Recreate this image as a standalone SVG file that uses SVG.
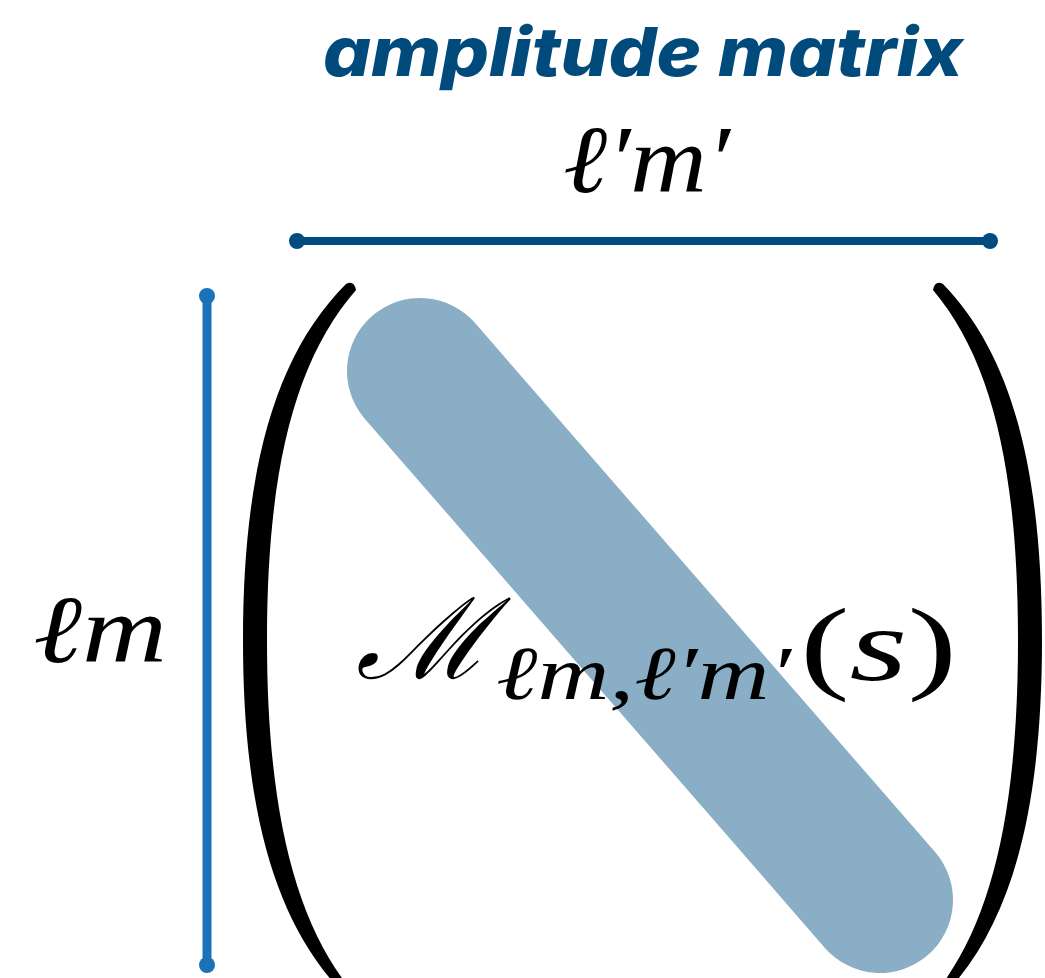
<svg xmlns="http://www.w3.org/2000/svg" width="1045" height="978" viewBox="0 0 1045 978">
  <style>
    .title { font-family: Inter, "Open Sans", "Liberation Sans", sans-serif; font-weight: 800; font-style: italic; fill: #004a7c; }
    .math { font-family: "Liberation Serif", "DejaVu Serif", serif; font-style: italic; fill: #000; }
    .script { font-family: "DejaVu Serif", "Liberation Serif", serif; font-style: italic; fill: #000; }
    .up { font-family: "Liberation Serif", "DejaVu Serif", serif; font-style: normal; fill: #000; }
    .paren { fill: #000; }
  </style>
  <rect width="1045" height="978" fill="#ffffff"/>
  <g id="title">
    <text class="title" x="323" y="76" font-size="68" textLength="640" lengthAdjust="spacingAndGlyphs">amplitude matrix</text>
  </g>
  <g id="diagonal">
    <line x1="420" y1="371" x2="880" y2="900" stroke="#8aaec6" stroke-width="146" stroke-linecap="round"/>
  </g>
  <g id="connectors">
    <g id="col-axis" fill="#004b7f">
      <line x1="297" y1="241" x2="990" y2="241" stroke="#004b7f" stroke-width="8"/>
      <circle cx="297" cy="241" r="8"/>
      <circle cx="990" cy="241" r="8"/>
    </g>
    <g id="row-axis" fill="#1a73b8">
      <line x1="207" y1="296" x2="207" y2="965" stroke="#1a73b8" stroke-width="9"/>
      <circle cx="207" cy="296" r="8"/>
      <circle cx="207" cy="965" r="8"/>
    </g>
  </g>
  <g id="col-label">
    <text class="math" x="563" y="192" font-size="96" textLength="167" lengthAdjust="spacingAndGlyphs">ℓ′m′</text>
  </g>
  <g id="row-label">
    <text class="math" x="33" y="662" font-size="96" textLength="134" lengthAdjust="spacingAndGlyphs">ℓm</text>
  </g>
  <g id="brackets">
    <path class="paren" d="M 346 284 C 275 355 243 470 243 640 C 243 810 275 925 346 996 L 356 996 C 295 925 267 810 267 640 C 267 470 295 360 356 290 Q 354 280 346 284 Z"/>
    <path class="paren" d="M 943 284 C 1012 355 1042 470 1042 640 C 1042 810 1012 925 943 996 L 933 996 C 992 925 1018 810 1018 640 C 1018 470 992 360 933 290 Q 935 280 943 284 Z"/>
  </g>
  <g id="matrix-entry">
    <text class="script" x="356" y="678" font-size="112" textLength="134" lengthAdjust="spacingAndGlyphs">ℳ</text>
    <text class="math" x="496" y="699" font-size="76" textLength="295" lengthAdjust="spacingAndGlyphs">ℓm,ℓ′m′</text>
    <text class="up" x="800" y="680" font-size="104" textLength="157" lengthAdjust="spacingAndGlyphs">(<tspan class="math">s</tspan>)</text>
  </g>
</svg>
